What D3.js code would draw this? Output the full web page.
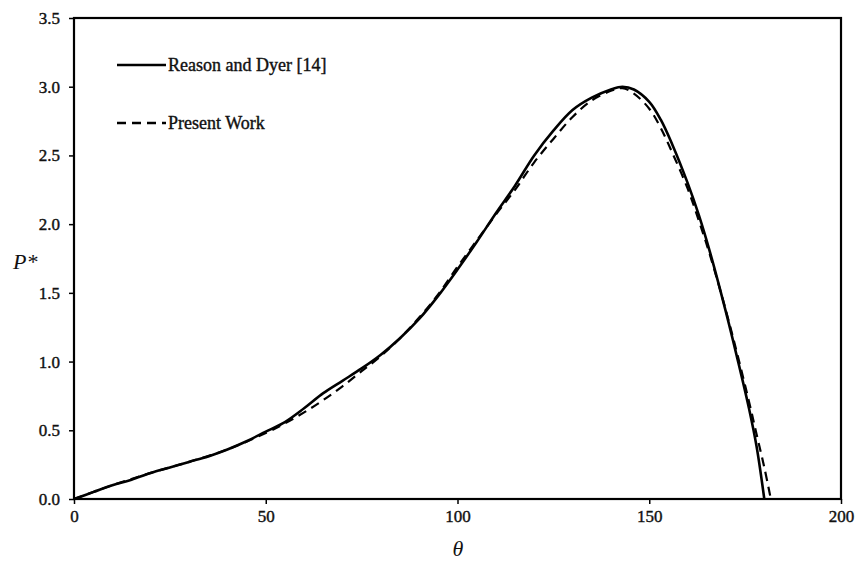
<!DOCTYPE html>
<html><head><meta charset="utf-8">
<script src="https://cdn.jsdelivr.net/npm/d3@7"></script>
<style>body{margin:0;background:#fff}svg{display:block}</style>
</head><body><svg id="c" width="857" height="563"></svg>
<script>
const xTicks = [0, 50, 100, 150, 200];
const yTicks = [0.0, 0.5, 1.0, 1.5, 2.0, 2.5, 3.0, 3.5];
const seriesNames = ["Reason and Dyer [14]", "Present Work"];
const reasonTheta = [0,5,10,15,20,25,30,35,40,45,50,55,60,65,70,75,80,85,90,95,100,105,110,115,120,125,130,135,140,143,146,150,153,156,160,163,166,170,173,176,178,180];
const reasonP = [0,0.05,0.10,0.14,0.19,0.23,0.27,0.31,0.36,0.42,0.49,0.56,0.66,0.77,0.86,0.95,1.05,1.17,1.31,1.48,1.67,1.87,2.08,2.28,2.50,2.68,2.83,2.92,2.98,3.00,2.98,2.89,2.76,2.58,2.30,2.06,1.78,1.36,1.02,0.66,0.38,0];
const presentTheta = [0,10,20,30,40,50,55,60,65,70,75,80,85,90,95,100,105,110,115,120,125,130,135,140,143,146,150,153,156,160,163,166,170,173,176,178,180,181.7];
const presentP = [0,0.10,0.19,0.27,0.36,0.48,0.55,0.63,0.72,0.82,0.93,1.04,1.17,1.32,1.49,1.69,1.88,2.07,2.25,2.45,2.62,2.78,2.90,2.97,2.99,2.95,2.84,2.70,2.52,2.26,2.02,1.76,1.37,1.05,0.71,0.47,0.23,0];

const svg = d3.select("#c");
const L = 74, R = 841, T = 18, B = 499;
const x = d3.scaleLinear().domain([0, 200]).range([L, R]);
const y = d3.scaleLinear().domain([0, 3.5]).range([B, T]);
const font = "'Liberation Serif','Times New Roman',serif";

svg.append("rect").attr("x", L).attr("y", T).attr("width", R - L).attr("height", B - T)
  .attr("fill", "none").attr("stroke", "#000").attr("stroke-width", 2.2);

const xa = svg.append("g").attr("transform", `translate(0,${B})`)
  .call(d3.axisBottom(x).tickValues(xTicks).tickFormat(d3.format("d")).tickSize(5).tickPadding(6));
const ya = svg.append("g").attr("transform", `translate(${L},0)`)
  .call(d3.axisLeft(y).tickValues(yTicks).tickFormat(d3.format(".1f")).tickSize(5).tickPadding(9));
[xa, ya].forEach(a => {
  a.select(".domain").remove();
  a.selectAll("line").attr("stroke", "#000").attr("stroke-width", 1.5);
  a.selectAll("text").attr("font-family", font).attr("font-size", 17).attr("fill", "#111")
    .attr("stroke", "#111").attr("stroke-width", 0.4);
});

const line = d3.line().x(d => x(d[0])).y(d => y(d[1])).curve(d3.curveCatmullRom.alpha(0.5));
const reason = reasonTheta.map((t, i) => [t, reasonP[i]]);
const present = presentTheta.map((t, i) => [t, presentP[i]]);

svg.append("path").datum(present).attr("d", line).attr("fill", "none")
  .attr("stroke", "#000").attr("stroke-width", 2.2).attr("stroke-dasharray", "9,6");
svg.append("path").datum(reason).attr("d", line).attr("fill", "none")
  .attr("stroke", "#000").attr("stroke-width", 2.6);

const lg = svg.append("g");
lg.append("line").attr("x1", 117).attr("x2", 166).attr("y1", 65).attr("y2", 65)
  .attr("stroke", "#000").attr("stroke-width", 2.6);
lg.append("line").attr("x1", 117).attr("x2", 166).attr("y1", 123).attr("y2", 123)
  .attr("stroke", "#000").attr("stroke-width", 2.6).attr("stroke-dasharray", "9,6");
lg.selectAll("text").data(seriesNames).join("text")
  .attr("x", 168).attr("y", (d, i) => i === 0 ? 71 : 129)
  .attr("font-family", font).attr("font-size", 18).attr("fill", "#111")
  .attr("stroke", "#111").attr("stroke-width", 0.4)
  .text(d => d);

svg.append("text").attr("x", 13).attr("y", 269).attr("font-family", font).attr("font-size", 22)
  .attr("font-style", "italic").attr("fill", "#111").text("P*");
svg.append("text").attr("x", 458).attr("y", 556).attr("text-anchor", "middle").attr("font-family", font)
  .attr("font-size", 22).attr("font-style", "italic").attr("fill", "#111").text("θ");
</script></body></html>
